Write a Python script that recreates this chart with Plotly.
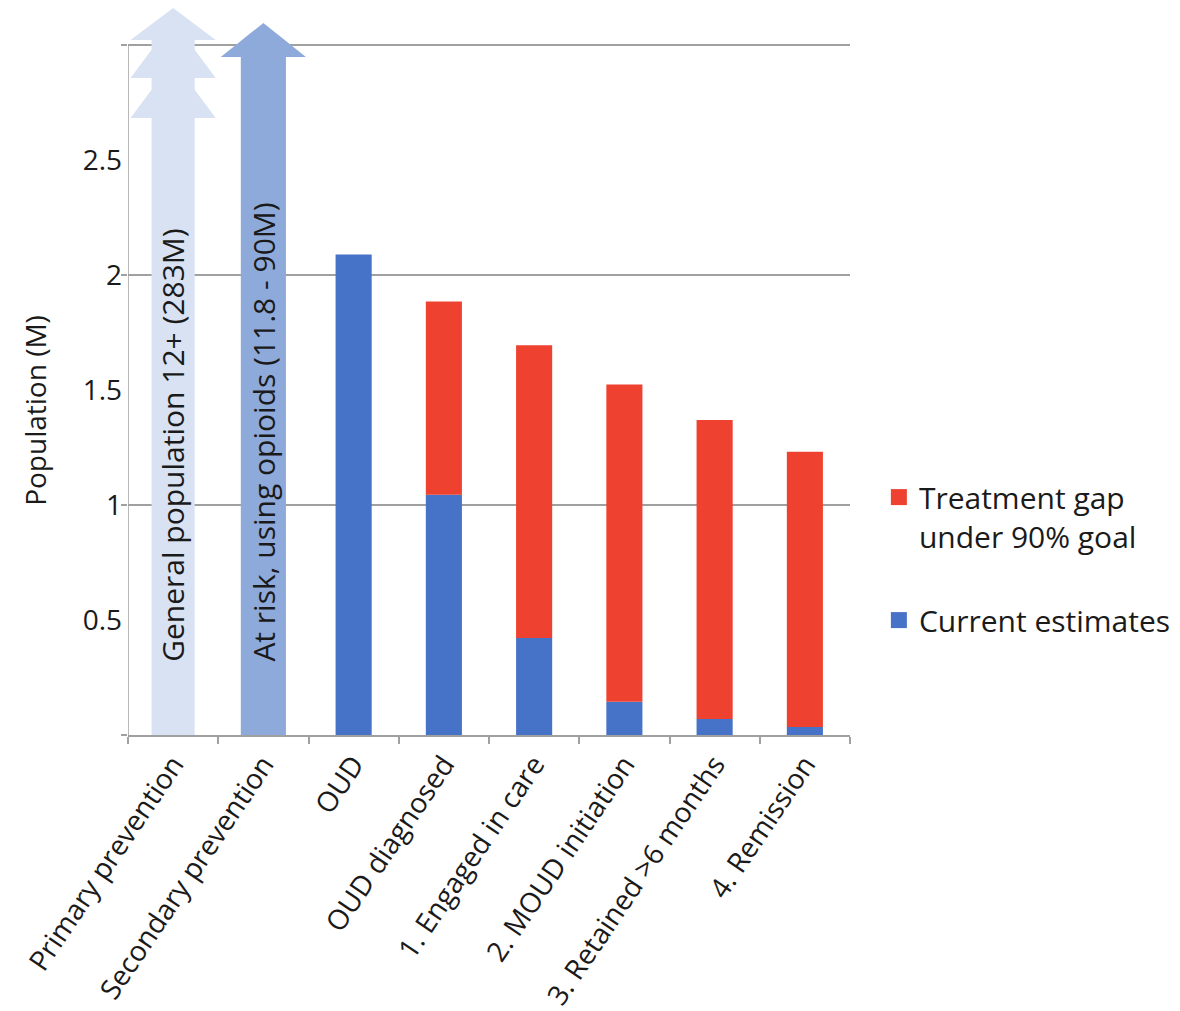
import plotly.graph_objects as go

# ---------------- data ----------------
categories = ["Primary prevention", "Secondary prevention", "OUD", "OUD diagnosed",
              "1. Engaged in care", "2. MOUD initiation", "3. Retained >6 months", "4. Remission"]
cascade_x = [2, 3, 4, 5, 6, 7]
totals = [2.09, 1.885, 1.695, 1.525, 1.37, 1.232]          # full bar height (M)
current = [2.09, 1.045, 0.422, 0.145, 0.07, 0.035]         # current estimates (M)
gap = [t - c for t, c in zip(totals, current)]             # treatment gap under 90% goal

arrow_x = [0, 1]
arrow_labels = ["General population 12+ (283M)", "At risk, using opioids (11.8 - 90M)"]
# arrow1: tip, then three chevron levels (shaft start, wing)
arrow1_tip = 3.162
arrow1_levels = [(3.023, 3.023), (2.980, 2.858), (2.806, 2.684)]
arrow2_tip = 3.097
arrow2_wing = 2.949

y_labels = [0.5, 1, 1.5, 2, 2.5]
grid_vals = [0, 1, 2, 3]

# ---------------- style ----------------
RED = "#ef4130"
BLUE = "#4672c8"
ARROW1 = "#d9e2f3"
ARROW2 = "#8eaadb"
GRID = "#a0a0a0"
FONT = "Open Sans"
TXT = "#1a1a1a"
FS = 28
FSX = 28
FSL = 30
FSA = 30

shaft_w = [0.478, 0.5]
head_half = 0.472

fig = go.Figure()

# arrow shafts
fig.add_trace(go.Bar(x=[arrow_x[0]], y=[arrow1_levels[-1][1]], width=[shaft_w[0]],
                     marker=dict(color=ARROW1, line=dict(width=0)), showlegend=False, hoverinfo="skip"))
fig.add_trace(go.Bar(x=[arrow_x[1]], y=[arrow2_wing], width=[shaft_w[1]],
                     marker=dict(color=ARROW2, line=dict(width=0)), showlegend=False, hoverinfo="skip"))

# arrow 1 head (triple chevron)
c = arrow_x[0]
sh = shaft_w[0] / 2
xs_r, ys_r = [c], [arrow1_tip]
for start, wing in arrow1_levels:
    if start != wing:
        xs_r += [c + sh]
        ys_r += [start]
    xs_r += [c + head_half, c + sh]
    ys_r += [wing, wing]
xs_l = [2 * c - v for v in reversed(xs_r[1:])]
ys_l = list(reversed(ys_r[1:]))
fig.add_trace(go.Scatter(x=xs_r + xs_l + [c], y=ys_r + ys_l + [arrow1_tip], fill="toself",
                         fillcolor=ARROW1, line=dict(width=0), mode="lines",
                         showlegend=False, hoverinfo="skip"))
# arrow 2 head
c2 = arrow_x[1]
fig.add_trace(go.Scatter(x=[c2 - head_half, c2, c2 + head_half, c2 - head_half],
                         y=[arrow2_wing, arrow2_tip, arrow2_wing, arrow2_wing], fill="toself",
                         fillcolor=ARROW2, line=dict(width=0), mode="lines",
                         showlegend=False, hoverinfo="skip"))

# cascade bars
fig.add_trace(go.Bar(x=cascade_x, y=current, width=0.4, name="Current estimates",
                     marker=dict(color=BLUE, line=dict(width=0)), showlegend=False))
fig.add_trace(go.Bar(x=cascade_x, y=gap, base=current, width=0.4,
                     name="Treatment gap under 90% goal",
                     marker=dict(color=RED, line=dict(width=0)), showlegend=False))

# legend entries (square swatches)
fig.add_trace(go.Scatter(x=[None], y=[None], mode="markers", name="Treatment gap<br>under 90% goal",
                         marker=dict(symbol="square", size=16, color=RED),
                         legendrank=1, legendgroup="a"))
fig.add_trace(go.Scatter(x=[None], y=[None], mode="markers", name="Current estimates",
                         marker=dict(symbol="square", size=16, color=BLUE),
                         legendrank=2, legendgroup="b"))

for xv, lab in zip(arrow_x, arrow_labels):
    fig.add_annotation(x=xv, y=0.31, text=lab, textangle=-90, showarrow=False,
                       xanchor="center", yanchor="bottom",
                       font=dict(family=FONT, size=FSA, color=TXT))

# y axis title
fig.add_annotation(xref="paper", yref="y", x=0, y=1.41, xshift=-93, text="Population (M)",
                   textangle=-90, showarrow=False, xanchor="center", yanchor="middle",
                   font=dict(family=FONT, size=FS, color=TXT))

# y axis line (only up to 3)
fig.add_shape(type="line", xref="x", yref="y", x0=-0.5, x1=-0.5, y0=0, y1=3,
              line=dict(color=GRID, width=1.5), layer="below")

fig.update_layout(
    width=1180, height=1011,
    margin=dict(l=120, r=338, t=0, b=284),
    paper_bgcolor="white", plot_bgcolor="white",
    barmode="overlay",
    font=dict(family=FONT, size=FS, color=TXT),
    legend=dict(x=1.04, y=0.363, xanchor="left", yanchor="top", valign="top",
                tracegroupgap=42, font=dict(family=FONT, size=FSL, color=TXT),
                itemwidth=30),
    xaxis=dict(range=[-0.5, 7.5], tickvals=list(range(len(categories))), ticktext=categories,
               tickangle=-56, ticks="", showgrid=False, zeroline=False,
               showline=True, linecolor=GRID, linewidth=1.5,
               tickfont=dict(family=FONT, size=FSX, color=TXT),
               minor=dict(tickvals=[i - 0.5 for i in range(len(categories) + 1)],
                          ticks="outside", ticklen=7, tickcolor=GRID, tickwidth=1.5,
                          showgrid=False)),
    yaxis=dict(range=[0, 3.162], tickvals=y_labels, ticktext=[str(v) for v in y_labels],
               ticks="", showgrid=False, zeroline=False, showline=False,
               ticklabelstandoff=5,
               tickfont=dict(family=FONT, size=FS, color=TXT),
               minor=dict(tickvals=grid_vals, ticks="outside", ticklen=6, tickcolor=GRID,
                          tickwidth=1.5, showgrid=True, gridcolor=GRID, gridwidth=1.5)),
)

fig.write_html("out.html")
